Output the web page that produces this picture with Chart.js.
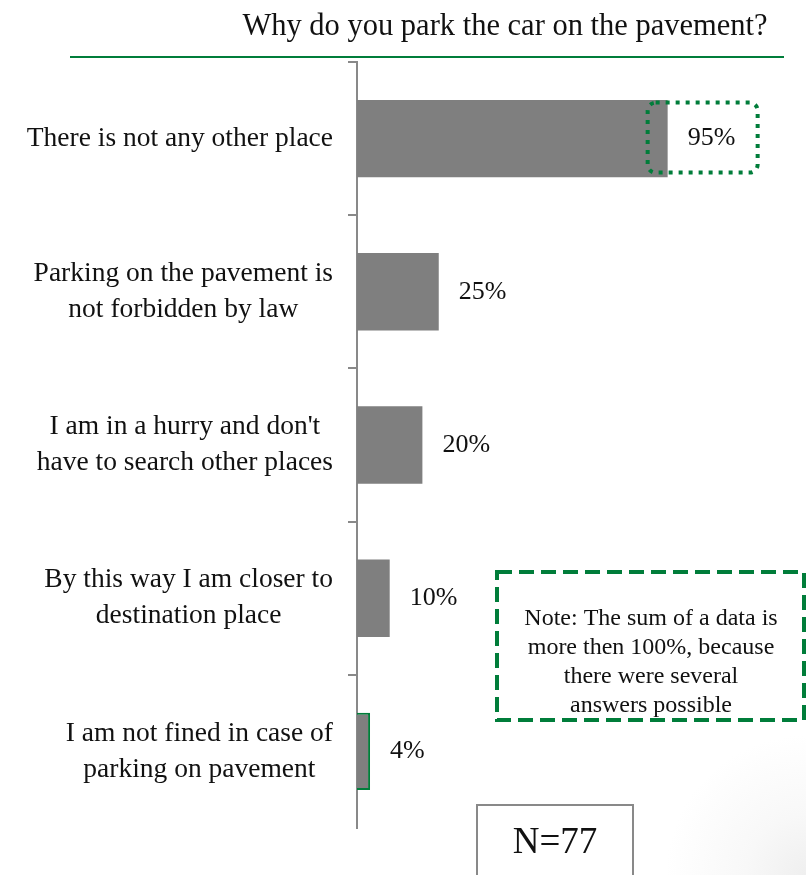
<!DOCTYPE html>
<html>
<head>
<meta charset="utf-8">
<script src="https://cdn.jsdelivr.net/npm/chart.js@4.4.0/dist/chart.umd.min.js"></script>
<style>
  html, body { margin: 0; padding: 0; overflow: hidden; }
  body {
    width: 806px; height: 875px;
    background: radial-gradient(circle at 100% 100%, #efefef 0px, #f8f8f8 60px, #ffffff 140px);
  }
  canvas { display: block; }
</style>
</head>
<body>
<canvas id="chart" width="806" height="875"></canvas>
<script>
// chart data
const titleText = 'Why do you park the car on the pavement?';
const categories = [
  ['There is not any other place'],
  ['Parking on the pavement is', 'not forbidden by law'],
  ["I am in a hurry and don't", 'have to search other places'],
  ['By this way I am closer to', 'destination place'],
  ['I am not fined in case of', 'parking on pavement']
];
const shares = [95, 25, 20, 10, 4];
const shareLabels = ['95%', '25%', '20%', '10%', '4%'];
const noteLines = [
  'Note: The sum of a data is',
  'more then 100%, because',
  'there were several',
  'answers possible'
];
const sampleText = 'N=77';

const GREEN = '#007d3a';
const GREY_AXIS = '#898989';
const SERIF = '"Liberation Serif", "Times New Roman", serif';

// everything that is not a bar: labels, title, boxes
const decorations = {
  id: 'decorations',
  afterDraw(chart) {
    const ctx = chart.ctx;
    const yScale = chart.scales.y;
    const bars = chart.getDatasetMeta(0).data;
    ctx.save();
    ctx.fillStyle = '#111';

    // title + green rule
    ctx.font = '30.5px ' + SERIF;
    ctx.textAlign = 'center';
    ctx.textBaseline = 'middle';
    ctx.fillText(titleText, 505, 27);
    ctx.strokeStyle = GREEN;
    ctx.lineWidth = 2;
    ctx.beginPath();
    ctx.moveTo(70, 57);
    ctx.lineTo(784, 57);
    ctx.stroke();

    // category labels: block right-aligned, lines centred inside block
    ctx.font = '27.5px ' + SERIF;
    const rightEdge = yScale.right - 24;
    categories.forEach((lines, i) => {
      const y = yScale.getPixelForTick(i);
      const w = Math.max(...lines.map(l => ctx.measureText(l).width));
      const cx = rightEdge - w / 2;
      lines.forEach((l, j) => {
        ctx.fillText(l, cx, y + (j - (lines.length - 1) / 2) * 36);
      });
    });

    // value labels next to the bars
    ctx.font = '26px ' + SERIF;
    ctx.textAlign = 'left';
    bars.forEach((bar, i) => {
      ctx.fillText(shareLabels[i], bar.x + 20, bar.y);
    });

    // dotted rounded highlight round the top value
    const top = bars[0];
    ctx.strokeStyle = GREEN;
    ctx.lineWidth = 4;
    ctx.setLineDash([4, 6]);
    ctx.beginPath();
    ctx.roundRect(top.x - 20, top.y - 36, 110, 70, 8);
    ctx.stroke();

    // note box
    ctx.setLineDash([15, 7]);
    ctx.beginPath();
    ctx.rect(497, 572, 307, 148);
    ctx.stroke();
    ctx.setLineDash([]);
    ctx.font = '24px ' + SERIF;
    ctx.textAlign = 'center';
    noteLines.forEach((l, j) => ctx.fillText(l, 651, 619 + j * 29));

    // sample size box
    ctx.strokeStyle = GREY_AXIS;
    ctx.lineWidth = 2;
    ctx.strokeRect(477, 805, 156, 90);
    ctx.font = '37px ' + SERIF;
    ctx.fillText(sampleText, 555, 843);
    ctx.restore();
  }
};

new Chart(document.getElementById('chart'), {
  type: 'bar',
  data: {
    labels: categories,
    datasets: [{
      data: shares,
      backgroundColor: '#7f7f7f',
      borderColor: shares.map((v, i) => i === shares.length - 1 ? GREEN : 'rgba(0,0,0,0)'),
      borderWidth: shares.map((v, i) => i === shares.length - 1 ? 2 : 0),
      categoryPercentage: 1,
      barPercentage: 0.505
    }]
  },
  options: {
    indexAxis: 'y',
    responsive: false,
    animation: false,
    layout: { padding: { left: 0, right: 122, top: 62, bottom: 47 } },
    plugins: { legend: { display: false }, tooltip: { enabled: false }, title: { display: false } },
    scales: {
      x: { display: false, min: 0, max: 100 },
      y: {
        afterFit: s => { s.width = 357; },
        ticks: { display: false },
        grid: {
          drawOnChartArea: false,
          drawTicks: true,
          tickLength: 9,
          lineWidth: 2,
          color: c => c.index === undefined ? 'rgba(0,0,0,0)' : GREY_AXIS
        },
        border: { display: true, color: GREY_AXIS, width: 2 }
      }
    }
  },
  plugins: [decorations]
});
</script>
</body>
</html>
